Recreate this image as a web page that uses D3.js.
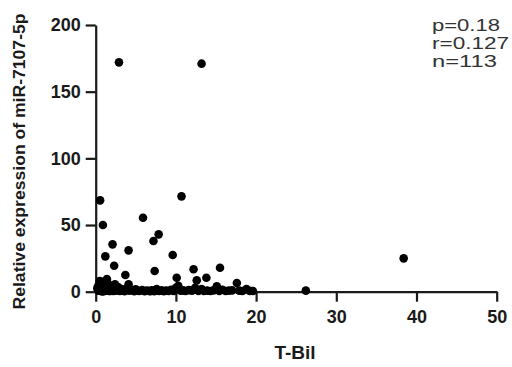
<!DOCTYPE html>
<html>
<head>
<meta charset="utf-8">
<script src="https://cdn.jsdelivr.net/npm/d3@7"></script>
<style>
  html, body { margin: 0; padding: 0; background: #fff; }
  svg { display: block; }
</style>
</head>
<body>
<svg id="chart" width="512" height="367"></svg>
<script>
// T-Bil (x) values
const tBil = [
  2.9, 13.2, 10.7, 0.55, 5.9, 0.9, 7.85, 7.2, 2.1, 4.1, 9.6, 1.2, 38.4, 2.3, 15.5, 12.2, 7.35, 3.7, 10.1, 13.8, 1.4, 12.6, 26.2, 4.1,
  0.2, 0.3, 0.4, 0.5, 0.6, 0.7, 0.8, 0.9, 1.0, 1.1, 1.2, 1.3, 1.4, 1.5, 1.6, 1.7, 1.8, 1.9, 2.0, 2.2,
  2.4, 2.6, 2.8, 3.0, 3.2, 3.4, 3.6, 3.9, 4.2, 4.5, 4.8, 5.1, 5.4, 5.8, 6.1, 6.4, 6.7, 7.0, 7.3, 7.6,
  7.9, 8.2, 8.5, 8.8, 9.1, 9.4, 9.7, 10.0, 10.3, 10.6, 10.9, 11.2, 11.6, 12.0, 12.4, 12.8, 13.2, 13.5,
  13.9, 14.3, 14.7, 15.1, 15.4, 15.8, 16.2, 16.6, 17.0, 17.6, 17.9, 18.3, 18.8, 19.2, 19.6, 0.3, 0.6,
  0.9, 1.2, 1.5, 1.8, 0.5, 1.0, 1.6, 2.1, 2.5, 0.8, 1.4, 3.3, 5.0, 6.8
];
// Relative expression of miR-7107-5p (y) values
const expression = [
  172, 171, 71.5, 68.5, 55.5, 50, 43, 38, 35.5, 31, 27.5, 26.5, 25, 19.5, 18, 16.8, 15.5, 12.5, 10.5, 10.5, 9.5, 8.5, 0.8, 5.5,
  2.5, 4.0, 1.0, 6.0, 3.0, 0.5, 7.5, 2.0, 4.5, 1.5, 5.0, 0.8, 3.5, 6.5, 2.0, 0.5, 4.0, 1.5, 3.0, 0.6,
  5.5, 1.0, 3.5, 0.5, 2.0, 1.0, 0.4, 2.5, 0.8, 1.5, 0.4, 0.9, 0.5, 1.2, 0.4, 0.8, 0.5, 1.0, 0.4, 2.0,
  0.5, 1.0, 0.4, 0.8, 0.5, 1.5, 0.6, 3.0, 4.5, 0.7, 1.0, 0.5, 1.2, 0.8, 3.0, 0.6, 2.0, 0.5,
  0.8, 0.5, 1.0, 4.0, 0.6, 1.5, 0.5, 0.8, 1.0, 6.5, 0.8, 0.5, 2.0, 0.6, 0.5, 1.0, 0.6,
  0.4, 2.2, 1.2, 0.5, 8.0, 0.3, 2.8, 1.4, 0.9, 0.3, 0.9, 0.7, 1.8, 0.4
];
const xTicks = [0, 10, 20, 30, 40, 50];
const yTicks = [0, 50, 100, 150, 200];
const statsLines = ["p=0.18", "r=0.127", "n=113"];
const statsWidths = [68, 77, 65];
const xLabel = "T-Bil";
const yLabel = "Relative expression of  miR-7107-5p";

const points = tBil.map((x, i) => ({ x, y: expression[i] }));

const svg = d3.select("#chart");
const x = d3.scaleLinear().domain([0, 50]).range([95.7, 496.7]);
const y = d3.scaleLinear().domain([0, 200]).range([291.7, 25]);

const axisColor = "#1a1a1a";
const tickFont = "'Liberation Sans', Arial, sans-serif";

// X axis
const gx = svg.append("g").attr("transform", `translate(0,${y(0)})`)
  .call(d3.axisBottom(x).tickValues(xTicks).tickSize(10).tickPadding(5).tickSizeOuter(0));
// Y axis
const gy = svg.append("g").attr("transform", `translate(${x(0)},0)`)
  .call(d3.axisLeft(y).tickValues(yTicks).tickSize(10).tickPadding(5).tickSizeOuter(0));

[gx, gy].forEach(g => {
  g.select(".domain").attr("stroke", axisColor).attr("stroke-width", 2.2);
  g.selectAll(".tick line").attr("stroke", axisColor).attr("stroke-width", 2.2);
  g.selectAll(".tick text").attr("fill", axisColor)
    .style("font-family", tickFont).style("font-weight", "bold").style("font-size", "18px");
});
gx.selectAll(".tick text").attr("dy", "0.9em");

// Points
svg.append("g").selectAll("circle").data(points).join("circle")
  .attr("cx", d => x(d.x)).attr("cy", d => y(d.y)).attr("r", 4.3)
  .attr("fill", "#000");

// Axis titles
svg.append("text").attr("x", 295).attr("y", 359).attr("text-anchor", "middle")
  .style("font-family", tickFont).style("font-weight", "bold").style("font-size", "19px")
  .attr("fill", axisColor).text(xLabel);

svg.append("text").attr("transform", "translate(25,161.5) rotate(-90)").attr("text-anchor", "middle")
  .attr("textLength", 296).attr("lengthAdjust", "spacingAndGlyphs")
  .style("font-family", tickFont).style("font-weight", "bold").style("font-size", "16px")
  .attr("fill", axisColor).text(yLabel);

// Stats annotation
svg.append("g").selectAll("text").data(statsLines).join("text")
  .attr("x", 432).attr("y", (d, i) => 31 + i * 18)
  .attr("textLength", (d, i) => statsWidths[i]).attr("lengthAdjust", "spacingAndGlyphs")
  .style("font-family", tickFont).style("font-size", "16px")
  .attr("fill", "#333").text(d => d);
</script>
</body>
</html>
